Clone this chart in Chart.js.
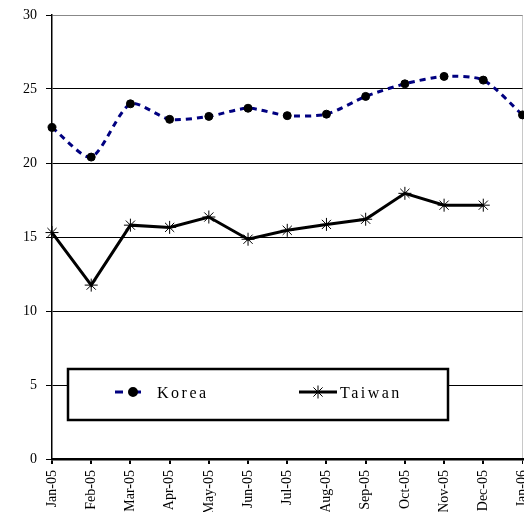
<!DOCTYPE html>
<html>
<head>
<meta charset="utf-8">
<script src="https://cdn.jsdelivr.net/npm/chart.js@4.4.1/dist/chart.umd.min.js"></script>
<style>
  html, body { margin: 0; padding: 0; background: #fff; overflow: hidden; }
  #wrap { width: 524px; height: 512px; overflow: hidden; }
</style>
</head>
<body>
<div id="wrap"><canvas id="c" width="530" height="540"></canvas></div>
<script>
// ── data ──
const months = ['Jan-05', 'Feb-05', 'Mar-05', 'Apr-05', 'May-05', 'Jun-05', 'Jul-05',
                'Aug-05', 'Sep-05', 'Oct-05', 'Nov-05', 'Dec-05', 'Jan-06'];
const korea  = [22.4, 20.4, 24.0, 22.95, 23.15, 23.7, 23.2, 23.3, 24.5, 25.35, 25.85, 25.6, 23.25];
const taiwan = [15.3, 11.75, 15.8, 15.65, 16.35, 14.85, 15.45, 15.85, 16.2, 17.95, 17.15, 17.15, null];
const yTicks = [0, 5, 10, 15, 20, 25, 30];

const SERIF = "'Liberation Serif', 'Times New Roman', serif";
const NAVY  = '#000080';

// legend box drawn inside the plot, like the spreadsheet original
const boxLegend = {
  id: 'boxLegend',
  afterDatasetsDraw(chart) {
    const ctx = chart.ctx;
    ctx.save();
    ctx.fillStyle = '#fff';
    ctx.fillRect(68, 369, 380, 51);
    ctx.strokeStyle = '#000';
    ctx.lineWidth = 2.5;
    ctx.strokeRect(68, 369, 380, 51);

    const y = 392;
    // Korea sample
    ctx.strokeStyle = NAVY;
    ctx.lineWidth = 3;
    ctx.beginPath();
    ctx.moveTo(115, y); ctx.lineTo(123, y);
    ctx.moveTo(129, y); ctx.lineTo(141, y);
    ctx.stroke();
    ctx.fillStyle = '#000';
    ctx.strokeStyle = '#000';
    Chart.helpers.drawPoint(ctx, { pointStyle: 'circle', radius: 3.5, rotation: 0, borderWidth: 1 }, 133, y);

    // Taiwan sample
    ctx.lineWidth = 3;
    ctx.beginPath();
    ctx.moveTo(299, y); ctx.lineTo(337, y);
    ctx.stroke();
    ctx.lineWidth = 1;
    Chart.helpers.drawPoint(ctx, { pointStyle: 'star', radius: 6.5, rotation: 0, borderWidth: 1 }, 318, y);

    ctx.font = '16px ' + SERIF;
    ctx.letterSpacing = '2.5px';
    ctx.textBaseline = 'alphabetic';
    ctx.textAlign = 'left';
    ctx.fillStyle = '#000';
    ctx.fillText(chart.data.datasets[0].label, 157, 398);
    ctx.fillText(chart.data.datasets[1].label, 340, 398);
    ctx.restore();
  }
};

new Chart(document.getElementById('c'), {
  type: 'line',
  data: {
    labels: months,
    datasets: [
      {
        label: 'Korea',
        data: korea,
        borderColor: NAVY,
        borderWidth: 3,
        borderDash: [6, 5],
        tension: 0.25,
        pointStyle: 'circle',
        pointRadius: 4,
        pointBackgroundColor: '#000',
        pointBorderColor: '#000',
        pointBorderWidth: 1,
        fill: false,
      },
      {
        label: 'Taiwan',
        data: taiwan,
        borderColor: '#000',
        borderWidth: 3,
        tension: 0,
        pointStyle: 'star',
        pointRadius: 6.5,
        pointBorderColor: '#000',
        pointBackgroundColor: '#000',
        pointBorderWidth: 1,
        fill: false,
      },
    ],
  },
  options: {
    responsive: false,
    animation: false,
    events: [],
    layout: { padding: { top: 15, right: 1, left: 0, bottom: 0 } },
    plugins: { legend: { display: false }, tooltip: { enabled: false } },
    scales: {
      x: {
        offset: false,
        border: { color: '#000', width: 2.5 },
        grid: {
          color: c => c.index === months.length - 1 ? '#c8c8c8' : 'rgba(0,0,0,0)',
          tickColor: '#000',
          tickLength: 5,
          lineWidth: c => c.index === months.length - 1 ? 1 : 2,
        },
        ticks: {
          autoSkip: false,
          minRotation: 90,
          maxRotation: 90,
          padding: 6,
          color: '#000',
          font: { family: SERIF, size: 14 },
        },
        afterFit(s) { s.height = 81; s.paddingLeft = 0; s.paddingRight = 0; },
      },
      y: {
        min: 0,
        max: 30,
        border: { color: '#000', width: 1.5 },
        grid: {
          color: c => c.tick && c.tick.value === 30 ? '#888' : '#000',
          tickColor: '#000',
          tickLength: 6,
          lineWidth: 1,
        },
        afterBuildTicks(s) { s.ticks = yTicks.map(v => ({ value: v })); },
        ticks: {
          padding: 9,
          color: '#000',
          font: { family: SERIF, size: 14 },
        },
        afterFit(s) { s.width = 52; s.paddingTop = 0; s.paddingBottom = 0; },
      },
    },
  },
  plugins: [boxLegend],
});
</script>
</body>
</html>
